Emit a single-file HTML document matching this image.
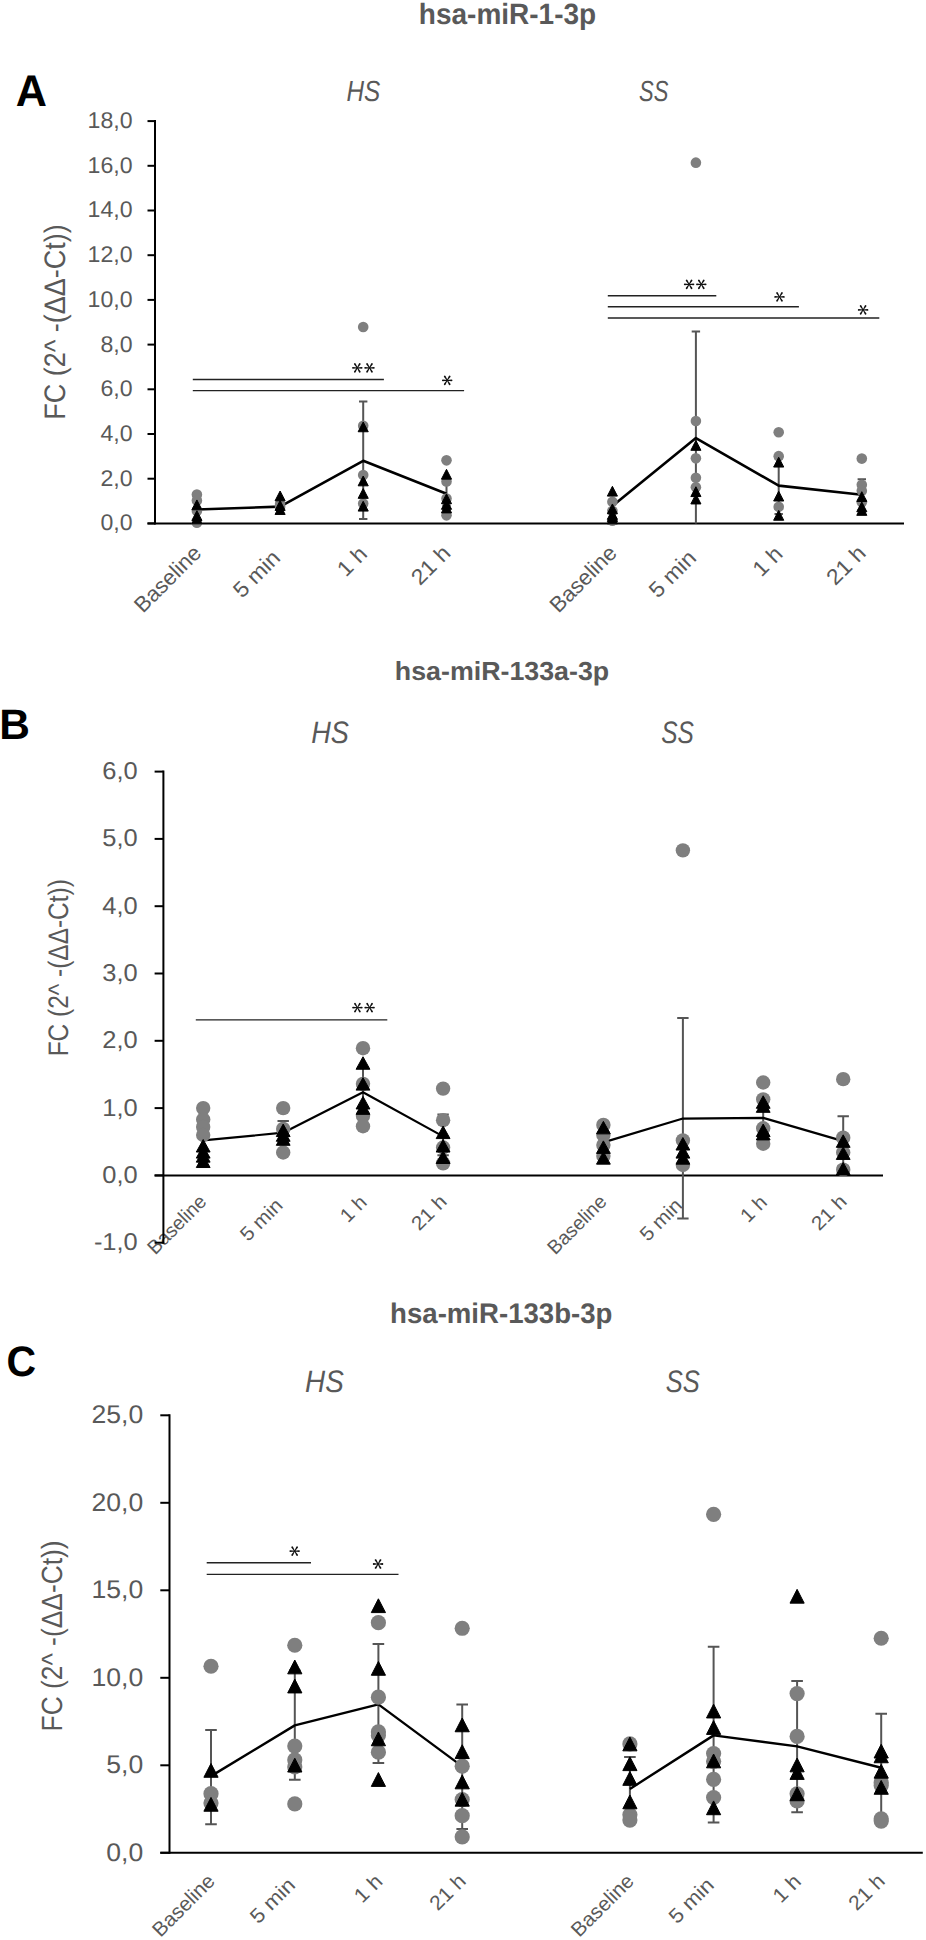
<!DOCTYPE html>
<html><head><meta charset="utf-8"><title>miRNA figure</title>
<style>
html,body{margin:0;padding:0;background:#fff;}
svg{display:block;}
text{font-family:"Liberation Sans",sans-serif;font-kerning:none;text-rendering:geometricPrecision;}
</style></head><body>
<svg width="926" height="1940" viewBox="0 0 926 1940">
<rect width="926" height="1940" fill="#fff"/>
<text transform="translate(418.84 24) scale(0.9527 1)" font-size="29.395" font-weight="bold" font-style="normal" fill="#595959">hsa-miR-1-3p</text>
<text transform="translate(394.83 679.7) scale(1.0270 1)" font-size="26.083" font-weight="bold" font-style="normal" fill="#595959">hsa-miR-133a-3p</text>
<text transform="translate(390.07 1323.3) scale(0.9716 1)" font-size="28.429" font-weight="bold" font-style="normal" fill="#595959">hsa-miR-133b-3p</text>
<text transform="translate(15.72 106) scale(0.9750 1)" font-size="44.332" font-weight="bold" font-style="normal" fill="#000">A</text>
<text transform="translate(-0.64 738.9) scale(1.0006 1)" font-size="42.443" font-weight="bold" font-style="normal" fill="#000">B</text>
<text transform="translate(6.52 1376.28) scale(0.9610 1)" font-size="42.655" font-weight="bold" font-style="normal" fill="#000">C</text>
<text transform="translate(346.45 100.9) scale(0.8413 1)" font-size="28.930" font-weight="normal" font-style="italic" fill="#595959">HS</text>
<text transform="translate(639.08 100.9) scale(0.7608 1)" font-size="28.930" font-weight="normal" font-style="italic" fill="#595959">SS</text>
<text transform="translate(311.16 742.9) scale(0.8739 1)" font-size="31.078" font-weight="normal" font-style="italic" fill="#595959">HS</text>
<text transform="translate(661.21 742.9) scale(0.7877 1)" font-size="31.078" font-weight="normal" font-style="italic" fill="#595959">SS</text>
<text transform="translate(305.04 1391.7) scale(0.8977 1)" font-size="31.078" font-weight="normal" font-style="italic" fill="#595959">HS</text>
<text transform="translate(665.68 1391.7) scale(0.8225 1)" font-size="31.078" font-weight="normal" font-style="italic" fill="#595959">SS</text>
<text transform="translate(65.3 419.81) rotate(-90) scale(0.9101 1)" font-size="29.651" font-weight="normal" font-style="normal" fill="#595959">FC (2^ -(ΔΔ-Ct))</text>
<text transform="translate(67.9 1056.31) rotate(-90) scale(0.8671 1)" font-size="28.198" font-weight="normal" font-style="normal" fill="#595959">FC (2^ -(ΔΔ-Ct))</text>
<text transform="translate(62.3 1731.46) rotate(-90) scale(0.9025 1)" font-size="29.215" font-weight="normal" font-style="normal" fill="#595959">FC (2^ -(ΔΔ-Ct))</text>
<text transform="translate(143.05 613.85) rotate(-45) scale(1.0062 1)" font-size="21.800" font-weight="normal" font-style="normal" fill="#595959">Baseline</text>
<text transform="translate(241.89 599.01) rotate(-45) scale(1.0548 1)" font-size="21.800" font-weight="normal" font-style="normal" fill="#595959">5 min</text>
<text transform="translate(346.1 577.7) rotate(-45) scale(1.0475 1)" font-size="21.800" font-weight="normal" font-style="normal" fill="#595959">1 h</text>
<text transform="translate(420 586.3) rotate(-45) scale(1.0615 1)" font-size="21.800" font-weight="normal" font-style="normal" fill="#595959">21 h</text>
<text transform="translate(558.55 613.85) rotate(-45) scale(1.0062 1)" font-size="21.800" font-weight="normal" font-style="normal" fill="#595959">Baseline</text>
<text transform="translate(657.69 599.01) rotate(-45) scale(1.0548 1)" font-size="21.800" font-weight="normal" font-style="normal" fill="#595959">5 min</text>
<text transform="translate(761.6 577.7) rotate(-45) scale(1.0475 1)" font-size="21.800" font-weight="normal" font-style="normal" fill="#595959">1 h</text>
<text transform="translate(835.3 586.3) rotate(-45) scale(1.0615 1)" font-size="21.800" font-weight="normal" font-style="normal" fill="#595959">21 h</text>
<path d="M155 120.1V524.4" stroke="#000" stroke-width="2" fill="none"/>
<path d="M147.5 523.4H904" stroke="#000" stroke-width="2" fill="none"/>
<path d="M147.5 523.4H155" stroke="#000" stroke-width="2" fill="none"/>
<text transform="translate(100.45 530.33) scale(1.0170 1)" font-size="22.740" font-weight="normal" font-style="normal" fill="#595959">0,0</text>
<path d="M147.5 478.7H155" stroke="#000" stroke-width="2" fill="none"/>
<text transform="translate(100.45 485.63) scale(1.0170 1)" font-size="22.740" font-weight="normal" font-style="normal" fill="#595959">2,0</text>
<path d="M147.5 434H155" stroke="#000" stroke-width="2" fill="none"/>
<text transform="translate(100.45 440.93) scale(1.0170 1)" font-size="22.740" font-weight="normal" font-style="normal" fill="#595959">4,0</text>
<path d="M147.5 389.3H155" stroke="#000" stroke-width="2" fill="none"/>
<text transform="translate(100.45 396.23) scale(1.0170 1)" font-size="22.740" font-weight="normal" font-style="normal" fill="#595959">6,0</text>
<path d="M147.5 344.6H155" stroke="#000" stroke-width="2" fill="none"/>
<text transform="translate(100.45 351.53) scale(1.0170 1)" font-size="22.740" font-weight="normal" font-style="normal" fill="#595959">8,0</text>
<path d="M147.5 299.9H155" stroke="#000" stroke-width="2" fill="none"/>
<text transform="translate(87.59 306.83) scale(1.0170 1)" font-size="22.740" font-weight="normal" font-style="normal" fill="#595959">10,0</text>
<path d="M147.5 255.2H155" stroke="#000" stroke-width="2" fill="none"/>
<text transform="translate(87.59 262.13) scale(1.0170 1)" font-size="22.740" font-weight="normal" font-style="normal" fill="#595959">12,0</text>
<path d="M147.5 210.5H155" stroke="#000" stroke-width="2" fill="none"/>
<text transform="translate(87.59 217.43) scale(1.0170 1)" font-size="22.740" font-weight="normal" font-style="normal" fill="#595959">14,0</text>
<path d="M147.5 165.8H155" stroke="#000" stroke-width="2" fill="none"/>
<text transform="translate(87.59 172.73) scale(1.0170 1)" font-size="22.740" font-weight="normal" font-style="normal" fill="#595959">16,0</text>
<path d="M147.5 121.1H155" stroke="#000" stroke-width="2" fill="none"/>
<text transform="translate(87.59 128.03) scale(1.0170 1)" font-size="22.740" font-weight="normal" font-style="normal" fill="#595959">18,0</text>
<path d="M192.8 379.5H383.9" stroke="#222222" stroke-width="1.4" fill="none"/>
<path d="M357.3 368.15L361.65 368.7A0.9 0.9 0 0 0 361.65 366.9L357.3 367.45ZM357.3 367.45L352.95 366.9A0.9 0.9 0 0 0 352.95 368.7L357.3 368.15ZM357 367.99L358.97 372.18A0.9 0.9 0 0 0 360.5 371.22L357.6 367.61ZM357.6 367.61L355.63 363.42A0.9 0.9 0 0 0 354.1 364.38L357 367.99ZM357 367.61L354.1 371.22A0.9 0.9 0 0 0 355.63 372.18L357.6 367.99ZM357.6 367.99L360.5 364.38A0.9 0.9 0 0 0 358.97 363.42L357 367.61Z" fill="#111"/>
<path d="M369.5 368.15L373.85 368.7A0.9 0.9 0 0 0 373.85 366.9L369.5 367.45ZM369.5 367.45L365.15 366.9A0.9 0.9 0 0 0 365.15 368.7L369.5 368.15ZM369.2 367.99L371.17 372.18A0.9 0.9 0 0 0 372.7 371.22L369.8 367.61ZM369.8 367.61L367.83 363.42A0.9 0.9 0 0 0 366.3 364.38L369.2 367.99ZM369.2 367.61L366.3 371.22A0.9 0.9 0 0 0 367.83 372.18L369.8 367.99ZM369.8 367.99L372.7 364.38A0.9 0.9 0 0 0 371.17 363.42L369.2 367.61Z" fill="#111"/>
<path d="M192.8 390.6H464.1" stroke="#222222" stroke-width="1.4" fill="none"/>
<path d="M447.2 380.65L451.55 381.2A0.9 0.9 0 0 0 451.55 379.4L447.2 379.95ZM447.2 379.95L442.85 379.4A0.9 0.9 0 0 0 442.85 381.2L447.2 380.65ZM446.9 380.49L448.87 384.68A0.9 0.9 0 0 0 450.4 383.72L447.5 380.11ZM447.5 380.11L445.53 375.92A0.9 0.9 0 0 0 444 376.88L446.9 380.49ZM446.9 380.11L444 383.72A0.9 0.9 0 0 0 445.53 384.68L447.5 380.49ZM447.5 380.49L450.4 376.88A0.9 0.9 0 0 0 448.87 375.92L446.9 380.11Z" fill="#111"/>
<path d="M607.8 295.7H716.3" stroke="#222222" stroke-width="1.4" fill="none"/>
<path d="M689.1 284.65L693.45 285.2A0.9 0.9 0 0 0 693.45 283.4L689.1 283.95ZM689.1 283.95L684.75 283.4A0.9 0.9 0 0 0 684.75 285.2L689.1 284.65ZM688.8 284.49L690.77 288.68A0.9 0.9 0 0 0 692.3 287.72L689.4 284.11ZM689.4 284.11L687.43 279.92A0.9 0.9 0 0 0 685.9 280.88L688.8 284.49ZM688.8 284.11L685.9 287.72A0.9 0.9 0 0 0 687.43 288.68L689.4 284.49ZM689.4 284.49L692.3 280.88A0.9 0.9 0 0 0 690.77 279.92L688.8 284.11Z" fill="#111"/>
<path d="M701.3 284.65L705.65 285.2A0.9 0.9 0 0 0 705.65 283.4L701.3 283.95ZM701.3 283.95L696.95 283.4A0.9 0.9 0 0 0 696.95 285.2L701.3 284.65ZM701 284.49L702.97 288.68A0.9 0.9 0 0 0 704.5 287.72L701.6 284.11ZM701.6 284.11L699.63 279.92A0.9 0.9 0 0 0 698.1 280.88L701 284.49ZM701 284.11L698.1 287.72A0.9 0.9 0 0 0 699.63 288.68L701.6 284.49ZM701.6 284.49L704.5 280.88A0.9 0.9 0 0 0 702.97 279.92L701 284.11Z" fill="#111"/>
<path d="M607.8 306.8H798.9" stroke="#222222" stroke-width="1.4" fill="none"/>
<path d="M779.5 297.25L783.85 297.8A0.9 0.9 0 0 0 783.85 296L779.5 296.55ZM779.5 296.55L775.15 296A0.9 0.9 0 0 0 775.15 297.8L779.5 297.25ZM779.2 297.09L781.17 301.28A0.9 0.9 0 0 0 782.7 300.32L779.8 296.71ZM779.8 296.71L777.83 292.52A0.9 0.9 0 0 0 776.3 293.48L779.2 297.09ZM779.2 296.71L776.3 300.32A0.9 0.9 0 0 0 777.83 301.28L779.8 297.09ZM779.8 297.09L782.7 293.48A0.9 0.9 0 0 0 781.17 292.52L779.2 296.71Z" fill="#111"/>
<path d="M607.8 318H879.3" stroke="#222222" stroke-width="1.4" fill="none"/>
<path d="M863.1 310.25L867.45 310.8A0.9 0.9 0 0 0 867.45 309L863.1 309.55ZM863.1 309.55L858.75 309A0.9 0.9 0 0 0 858.75 310.8L863.1 310.25ZM862.8 310.09L864.77 314.28A0.9 0.9 0 0 0 866.3 313.32L863.4 309.71ZM863.4 309.71L861.43 305.52A0.9 0.9 0 0 0 859.9 306.48L862.8 310.09ZM862.8 309.71L859.9 313.32A0.9 0.9 0 0 0 861.43 314.28L863.4 310.09ZM863.4 310.09L866.3 306.48A0.9 0.9 0 0 0 864.77 305.52L862.8 309.71Z" fill="#111"/>
<path d="M363.2 401.59V518.93M359 401.59H367.4M359 518.93H367.4" stroke="#555555" stroke-width="2" fill="none"/>
<path d="M446.5 480.93V505.52M442.3 480.93H450.7M442.3 505.52H450.7" stroke="#555555" stroke-width="2" fill="none"/>
<path d="M695.9 331.41V523.4M691.7 331.41H700.1" stroke="#555555" stroke-width="2" fill="none"/>
<path d="M778.7 458.58V514.01M774.5 458.58H782.9M774.5 514.01H782.9" stroke="#555555" stroke-width="2" fill="none"/>
<path d="M861.8 479.15V509.99M857.6 479.15H866M857.6 509.99H866" stroke="#555555" stroke-width="2" fill="none"/>
<polyline points="196.9,509.54 280.1,506.64 363.2,460.82 446.5,493.67" stroke="#000" stroke-width="2.6" fill="none" stroke-linejoin="round"/>
<polyline points="612.4,505.97 695.9,438.02 778.7,485.63 861.8,494.79" stroke="#000" stroke-width="2.6" fill="none" stroke-linejoin="round"/>
<circle cx="196.9" cy="494.57" r="5.3" fill="#7f7f7f"/>
<circle cx="196.9" cy="500.6" r="5.3" fill="#7f7f7f"/>
<circle cx="196.9" cy="511.11" r="5.3" fill="#7f7f7f"/>
<circle cx="196.9" cy="522.73" r="5.3" fill="#7f7f7f"/>
<circle cx="280.1" cy="503.96" r="5.3" fill="#7f7f7f"/>
<circle cx="280.1" cy="506.64" r="5.3" fill="#7f7f7f"/>
<circle cx="363.2" cy="326.94" r="5.3" fill="#7f7f7f"/>
<circle cx="363.2" cy="425.73" r="5.3" fill="#7f7f7f"/>
<circle cx="363.2" cy="475.12" r="5.3" fill="#7f7f7f"/>
<circle cx="363.2" cy="503.51" r="5.3" fill="#7f7f7f"/>
<circle cx="446.5" cy="460.37" r="5.3" fill="#7f7f7f"/>
<circle cx="446.5" cy="481.38" r="5.3" fill="#7f7f7f"/>
<circle cx="446.5" cy="498.59" r="5.3" fill="#7f7f7f"/>
<circle cx="446.5" cy="515.35" r="5.3" fill="#7f7f7f"/>
<circle cx="612.4" cy="501.72" r="5.3" fill="#7f7f7f"/>
<circle cx="612.4" cy="510.88" r="5.3" fill="#7f7f7f"/>
<circle cx="612.4" cy="520.72" r="5.3" fill="#7f7f7f"/>
<circle cx="695.9" cy="162.67" r="5.3" fill="#7f7f7f"/>
<circle cx="695.9" cy="421.04" r="5.3" fill="#7f7f7f"/>
<circle cx="695.9" cy="458.36" r="5.3" fill="#7f7f7f"/>
<circle cx="695.9" cy="477.81" r="5.3" fill="#7f7f7f"/>
<circle cx="695.9" cy="487.19" r="5.3" fill="#7f7f7f"/>
<circle cx="778.7" cy="432.21" r="5.3" fill="#7f7f7f"/>
<circle cx="778.7" cy="456.13" r="5.3" fill="#7f7f7f"/>
<circle cx="778.7" cy="506.86" r="5.3" fill="#7f7f7f"/>
<circle cx="861.8" cy="458.58" r="5.3" fill="#7f7f7f"/>
<circle cx="861.8" cy="484.73" r="5.3" fill="#7f7f7f"/>
<circle cx="861.8" cy="490.77" r="5.3" fill="#7f7f7f"/>
<circle cx="861.8" cy="502.17" r="5.3" fill="#7f7f7f"/>
<path d="M196.9 499.95L201.95 509.75L191.85 509.75Z" fill="#000" stroke="#000" stroke-width="1" stroke-linejoin="round"/>
<path d="M196.9 510.68L201.95 520.48L191.85 520.48Z" fill="#000" stroke="#000" stroke-width="1" stroke-linejoin="round"/>
<path d="M196.9 514.03L201.95 523.83L191.85 523.83Z" fill="#000" stroke="#000" stroke-width="1" stroke-linejoin="round"/>
<path d="M280.1 491.01L285.15 500.81L275.05 500.81Z" fill="#000" stroke="#000" stroke-width="1" stroke-linejoin="round"/>
<path d="M280.1 500.62L285.15 510.42L275.05 510.42Z" fill="#000" stroke="#000" stroke-width="1" stroke-linejoin="round"/>
<path d="M280.1 504.64L285.15 514.44L275.05 514.44Z" fill="#000" stroke="#000" stroke-width="1" stroke-linejoin="round"/>
<path d="M363.2 421.95L368.25 431.75L358.15 431.75Z" fill="#000" stroke="#000" stroke-width="1" stroke-linejoin="round"/>
<path d="M363.2 476.03L368.25 485.83L358.15 485.83Z" fill="#000" stroke="#000" stroke-width="1" stroke-linejoin="round"/>
<path d="M363.2 488.55L368.25 498.35L358.15 498.35Z" fill="#000" stroke="#000" stroke-width="1" stroke-linejoin="round"/>
<path d="M363.2 501.29L368.25 511.09L358.15 511.09Z" fill="#000" stroke="#000" stroke-width="1" stroke-linejoin="round"/>
<path d="M446.5 469.33L451.55 479.13L441.45 479.13Z" fill="#000" stroke="#000" stroke-width="1" stroke-linejoin="round"/>
<path d="M446.5 493.92L451.55 503.71L441.45 503.71Z" fill="#000" stroke="#000" stroke-width="1" stroke-linejoin="round"/>
<path d="M446.5 499.5L451.55 509.3L441.45 509.3Z" fill="#000" stroke="#000" stroke-width="1" stroke-linejoin="round"/>
<path d="M446.5 503.08L451.55 512.88L441.45 512.88Z" fill="#000" stroke="#000" stroke-width="1" stroke-linejoin="round"/>
<path d="M612.4 486.32L617.45 496.12L607.35 496.12Z" fill="#000" stroke="#000" stroke-width="1" stroke-linejoin="round"/>
<path d="M612.4 503.97L617.45 513.77L607.35 513.77Z" fill="#000" stroke="#000" stroke-width="1" stroke-linejoin="round"/>
<path d="M612.4 509.56L617.45 519.36L607.35 519.36Z" fill="#000" stroke="#000" stroke-width="1" stroke-linejoin="round"/>
<path d="M612.4 511.79L617.45 521.59L607.35 521.59Z" fill="#000" stroke="#000" stroke-width="1" stroke-linejoin="round"/>
<path d="M612.4 514.03L617.45 523.83L607.35 523.83Z" fill="#000" stroke="#000" stroke-width="1" stroke-linejoin="round"/>
<path d="M695.9 440.5L700.95 450.3L690.85 450.3Z" fill="#000" stroke="#000" stroke-width="1" stroke-linejoin="round"/>
<path d="M695.9 486.76L700.95 496.56L690.85 496.56Z" fill="#000" stroke="#000" stroke-width="1" stroke-linejoin="round"/>
<path d="M695.9 494.14L700.95 503.94L690.85 503.94Z" fill="#000" stroke="#000" stroke-width="1" stroke-linejoin="round"/>
<path d="M778.7 457.26L783.75 467.06L773.65 467.06Z" fill="#000" stroke="#000" stroke-width="1" stroke-linejoin="round"/>
<path d="M778.7 491.23L783.75 501.03L773.65 501.03Z" fill="#000" stroke="#000" stroke-width="1" stroke-linejoin="round"/>
<path d="M778.7 510.45L783.75 520.25L773.65 520.25Z" fill="#000" stroke="#000" stroke-width="1" stroke-linejoin="round"/>
<path d="M861.8 491.68L866.85 501.48L856.75 501.48Z" fill="#000" stroke="#000" stroke-width="1" stroke-linejoin="round"/>
<path d="M861.8 501.96L866.85 511.76L856.75 511.76Z" fill="#000" stroke="#000" stroke-width="1" stroke-linejoin="round"/>
<path d="M861.8 505.54L866.85 515.34L856.75 515.34Z" fill="#000" stroke="#000" stroke-width="1" stroke-linejoin="round"/>
<text transform="translate(155.16 1255.44) rotate(-45) scale(0.9874 1)" font-size="19.600" font-weight="normal" font-style="normal" fill="#595959">Baseline</text>
<text transform="translate(247.93 1242.37) rotate(-45) scale(1.0585 1)" font-size="19.600" font-weight="normal" font-style="normal" fill="#595959">5 min</text>
<text transform="translate(348.05 1223.45) rotate(-45) scale(1.0353 1)" font-size="19.600" font-weight="normal" font-style="normal" fill="#595959">1 h</text>
<text transform="translate(419.18 1231.62) rotate(-45) scale(1.0685 1)" font-size="19.600" font-weight="normal" font-style="normal" fill="#595959">21 h</text>
<text transform="translate(555.36 1255.44) rotate(-45) scale(0.9874 1)" font-size="19.600" font-weight="normal" font-style="normal" fill="#595959">Baseline</text>
<text transform="translate(647.63 1242.37) rotate(-45) scale(1.0585 1)" font-size="19.600" font-weight="normal" font-style="normal" fill="#595959">5 min</text>
<text transform="translate(748.25 1223.45) rotate(-45) scale(1.0353 1)" font-size="19.600" font-weight="normal" font-style="normal" fill="#595959">1 h</text>
<text transform="translate(819.28 1231.62) rotate(-45) scale(1.0685 1)" font-size="19.600" font-weight="normal" font-style="normal" fill="#595959">21 h</text>
<path d="M163.4 770.6V1243.7" stroke="#000" stroke-width="2" fill="none"/>
<path d="M154.6 1175.4H883" stroke="#000" stroke-width="2" fill="none"/>
<path d="M154.6 1242.7H163.4" stroke="#000" stroke-width="2" fill="none"/>
<text transform="translate(93.88 1250.21) scale(1.0430 1)" font-size="24.435" font-weight="normal" font-style="normal" fill="#595959">-1,0</text>
<path d="M154.6 1175.4H163.4" stroke="#000" stroke-width="2" fill="none"/>
<text transform="translate(102.37 1182.91) scale(1.0430 1)" font-size="24.435" font-weight="normal" font-style="normal" fill="#595959">0,0</text>
<path d="M154.6 1108.1H163.4" stroke="#000" stroke-width="2" fill="none"/>
<text transform="translate(102.37 1115.61) scale(1.0430 1)" font-size="24.435" font-weight="normal" font-style="normal" fill="#595959">1,0</text>
<path d="M154.6 1040.8H163.4" stroke="#000" stroke-width="2" fill="none"/>
<text transform="translate(102.37 1048.31) scale(1.0430 1)" font-size="24.435" font-weight="normal" font-style="normal" fill="#595959">2,0</text>
<path d="M154.6 973.5H163.4" stroke="#000" stroke-width="2" fill="none"/>
<text transform="translate(102.37 981.01) scale(1.0430 1)" font-size="24.435" font-weight="normal" font-style="normal" fill="#595959">3,0</text>
<path d="M154.6 906.2H163.4" stroke="#000" stroke-width="2" fill="none"/>
<text transform="translate(102.37 913.71) scale(1.0430 1)" font-size="24.435" font-weight="normal" font-style="normal" fill="#595959">4,0</text>
<path d="M154.6 838.9H163.4" stroke="#000" stroke-width="2" fill="none"/>
<text transform="translate(102.37 846.41) scale(1.0430 1)" font-size="24.435" font-weight="normal" font-style="normal" fill="#595959">5,0</text>
<path d="M154.6 771.6H163.4" stroke="#000" stroke-width="2" fill="none"/>
<text transform="translate(102.37 779.11) scale(1.0430 1)" font-size="24.435" font-weight="normal" font-style="normal" fill="#595959">6,0</text>
<path d="M195.8 1019.9H387.3" stroke="#222222" stroke-width="1.4" fill="none"/>
<path d="M357.4 1007.95L361.75 1008.5A0.9 0.9 0 0 0 361.75 1006.7L357.4 1007.25ZM357.4 1007.25L353.05 1006.7A0.9 0.9 0 0 0 353.05 1008.5L357.4 1007.95ZM357.1 1007.79L359.07 1011.98A0.9 0.9 0 0 0 360.6 1011.02L357.7 1007.41ZM357.7 1007.41L355.73 1003.22A0.9 0.9 0 0 0 354.2 1004.18L357.1 1007.79ZM357.1 1007.41L354.2 1011.02A0.9 0.9 0 0 0 355.73 1011.98L357.7 1007.79ZM357.7 1007.79L360.6 1004.18A0.9 0.9 0 0 0 359.07 1003.22L357.1 1007.41Z" fill="#111"/>
<path d="M369.6 1007.95L373.95 1008.5A0.9 0.9 0 0 0 373.95 1006.7L369.6 1007.25ZM369.6 1007.25L365.25 1006.7A0.9 0.9 0 0 0 365.25 1008.5L369.6 1007.95ZM369.3 1007.79L371.27 1011.98A0.9 0.9 0 0 0 372.8 1011.02L369.9 1007.41ZM369.9 1007.41L367.93 1003.22A0.9 0.9 0 0 0 366.4 1004.18L369.3 1007.79ZM369.3 1007.41L366.4 1011.02A0.9 0.9 0 0 0 367.93 1011.98L369.9 1007.79ZM369.9 1007.79L372.8 1004.18A0.9 0.9 0 0 0 371.27 1003.22L369.3 1007.41Z" fill="#111"/>
<path d="M283.2 1120.89V1143.77M277.5 1120.89H288.9M277.5 1143.77H288.9" stroke="#555555" stroke-width="2" fill="none"/>
<path d="M363 1067.72V1116.85M357.3 1067.72H368.7M357.3 1116.85H368.7" stroke="#555555" stroke-width="2" fill="none"/>
<path d="M443.1 1114.49V1155.21M437.4 1114.49H448.8M437.4 1155.21H448.8" stroke="#555555" stroke-width="2" fill="none"/>
<path d="M682.9 1017.92V1218.47M677.2 1017.92H688.6M677.2 1218.47H688.6" stroke="#555555" stroke-width="2" fill="none"/>
<path d="M763.2 1101.37V1135.02M757.5 1101.37H768.9M757.5 1135.02H768.9" stroke="#555555" stroke-width="2" fill="none"/>
<path d="M843.2 1116.18V1165.98M837.5 1116.18H848.9M837.5 1165.98H848.9" stroke="#555555" stroke-width="2" fill="none"/>
<polyline points="203.2,1140.4 283.2,1132.66 363,1092.28 443.1,1136.37" stroke="#000" stroke-width="2.2" fill="none" stroke-linejoin="round"/>
<polyline points="603.4,1142.42 682.9,1118.53 763.2,1117.86 843.2,1141.08" stroke="#000" stroke-width="2.2" fill="none" stroke-linejoin="round"/>
<circle cx="203.2" cy="1108.1" r="7.2" fill="#7f7f7f"/>
<circle cx="203.2" cy="1119.54" r="7.2" fill="#7f7f7f"/>
<circle cx="203.2" cy="1126.94" r="7.2" fill="#7f7f7f"/>
<circle cx="203.2" cy="1135.02" r="7.2" fill="#7f7f7f"/>
<circle cx="283.2" cy="1108.1" r="7.2" fill="#7f7f7f"/>
<circle cx="283.2" cy="1128.96" r="7.2" fill="#7f7f7f"/>
<circle cx="283.2" cy="1152.52" r="7.2" fill="#7f7f7f"/>
<circle cx="363" cy="1048.2" r="7.2" fill="#7f7f7f"/>
<circle cx="363" cy="1083.87" r="7.2" fill="#7f7f7f"/>
<circle cx="363" cy="1115.84" r="7.2" fill="#7f7f7f"/>
<circle cx="363" cy="1126.27" r="7.2" fill="#7f7f7f"/>
<circle cx="443.1" cy="1088.58" r="7.2" fill="#7f7f7f"/>
<circle cx="443.1" cy="1120.21" r="7.2" fill="#7f7f7f"/>
<circle cx="443.1" cy="1147.47" r="7.2" fill="#7f7f7f"/>
<circle cx="443.1" cy="1163.29" r="7.2" fill="#7f7f7f"/>
<circle cx="603.4" cy="1124.93" r="7.2" fill="#7f7f7f"/>
<circle cx="603.4" cy="1135.02" r="7.2" fill="#7f7f7f"/>
<circle cx="603.4" cy="1145.12" r="7.2" fill="#7f7f7f"/>
<circle cx="603.4" cy="1155.88" r="7.2" fill="#7f7f7f"/>
<circle cx="682.9" cy="850.34" r="7.2" fill="#7f7f7f"/>
<circle cx="682.9" cy="1140.4" r="7.2" fill="#7f7f7f"/>
<circle cx="682.9" cy="1164.97" r="7.2" fill="#7f7f7f"/>
<circle cx="763.2" cy="1082.53" r="7.2" fill="#7f7f7f"/>
<circle cx="763.2" cy="1099.35" r="7.2" fill="#7f7f7f"/>
<circle cx="763.2" cy="1128.29" r="7.2" fill="#7f7f7f"/>
<circle cx="763.2" cy="1143.77" r="7.2" fill="#7f7f7f"/>
<circle cx="843.2" cy="1079.16" r="7.2" fill="#7f7f7f"/>
<circle cx="843.2" cy="1137.71" r="7.2" fill="#7f7f7f"/>
<circle cx="843.2" cy="1152.52" r="7.2" fill="#7f7f7f"/>
<circle cx="843.2" cy="1169.68" r="7.2" fill="#7f7f7f"/>
<path d="M203.2 1139.54L210.1 1152.04L196.3 1152.04Z" fill="#000" stroke="#000" stroke-width="1" stroke-linejoin="round"/>
<path d="M203.2 1145.6L210.1 1158.1L196.3 1158.1Z" fill="#000" stroke="#000" stroke-width="1" stroke-linejoin="round"/>
<path d="M203.2 1149.63L210.1 1162.13L196.3 1162.13Z" fill="#000" stroke="#000" stroke-width="1" stroke-linejoin="round"/>
<path d="M203.2 1155.02L210.1 1167.52L196.3 1167.52Z" fill="#000" stroke="#000" stroke-width="1" stroke-linejoin="round"/>
<path d="M283.2 1124.06L290.1 1136.56L276.3 1136.56Z" fill="#000" stroke="#000" stroke-width="1" stroke-linejoin="round"/>
<path d="M283.2 1128.77L290.1 1141.27L276.3 1141.27Z" fill="#000" stroke="#000" stroke-width="1" stroke-linejoin="round"/>
<path d="M283.2 1132.81L290.1 1145.31L276.3 1145.31Z" fill="#000" stroke="#000" stroke-width="1" stroke-linejoin="round"/>
<path d="M363 1056.76L369.9 1069.26L356.1 1069.26Z" fill="#000" stroke="#000" stroke-width="1" stroke-linejoin="round"/>
<path d="M363 1077.62L369.9 1090.12L356.1 1090.12Z" fill="#000" stroke="#000" stroke-width="1" stroke-linejoin="round"/>
<path d="M363 1096.47L369.9 1108.97L356.1 1108.97Z" fill="#000" stroke="#000" stroke-width="1" stroke-linejoin="round"/>
<path d="M363 1101.85L369.9 1114.35L356.1 1114.35Z" fill="#000" stroke="#000" stroke-width="1" stroke-linejoin="round"/>
<path d="M443.1 1126.08L450 1138.58L436.2 1138.58Z" fill="#000" stroke="#000" stroke-width="1" stroke-linejoin="round"/>
<path d="M443.1 1139.54L450 1152.04L436.2 1152.04Z" fill="#000" stroke="#000" stroke-width="1" stroke-linejoin="round"/>
<path d="M443.1 1150.98L450 1163.48L436.2 1163.48Z" fill="#000" stroke="#000" stroke-width="1" stroke-linejoin="round"/>
<path d="M603.4 1121.37L610.3 1133.87L596.5 1133.87Z" fill="#000" stroke="#000" stroke-width="1" stroke-linejoin="round"/>
<path d="M603.4 1140.88L610.3 1153.38L596.5 1153.38Z" fill="#000" stroke="#000" stroke-width="1" stroke-linejoin="round"/>
<path d="M603.4 1151.65L610.3 1164.15L596.5 1164.15Z" fill="#000" stroke="#000" stroke-width="1" stroke-linejoin="round"/>
<path d="M682.9 1137.52L689.8 1150.02L676 1150.02Z" fill="#000" stroke="#000" stroke-width="1" stroke-linejoin="round"/>
<path d="M682.9 1145.6L689.8 1158.1L676 1158.1Z" fill="#000" stroke="#000" stroke-width="1" stroke-linejoin="round"/>
<path d="M682.9 1151.65L689.8 1164.15L676 1164.15Z" fill="#000" stroke="#000" stroke-width="1" stroke-linejoin="round"/>
<path d="M763.2 1095.79L770.1 1108.29L756.3 1108.29Z" fill="#000" stroke="#000" stroke-width="1" stroke-linejoin="round"/>
<path d="M763.2 1099.83L770.1 1112.33L756.3 1112.33Z" fill="#000" stroke="#000" stroke-width="1" stroke-linejoin="round"/>
<path d="M763.2 1124.06L770.1 1136.56L756.3 1136.56Z" fill="#000" stroke="#000" stroke-width="1" stroke-linejoin="round"/>
<path d="M763.2 1127.42L770.1 1139.92L756.3 1139.92Z" fill="#000" stroke="#000" stroke-width="1" stroke-linejoin="round"/>
<path d="M843.2 1134.83L850.1 1147.33L836.3 1147.33Z" fill="#000" stroke="#000" stroke-width="1" stroke-linejoin="round"/>
<path d="M843.2 1146.94L850.1 1159.44L836.3 1159.44Z" fill="#000" stroke="#000" stroke-width="1" stroke-linejoin="round"/>
<path d="M843.2 1162.42L850.1 1174.92L836.3 1174.92Z" fill="#000" stroke="#000" stroke-width="1" stroke-linejoin="round"/>
<text transform="translate(160.45 1938.05) rotate(-45) scale(1.0075 1)" font-size="20.400" font-weight="normal" font-style="normal" fill="#595959">Baseline</text>
<text transform="translate(258.15 1924.65) rotate(-45) scale(1.0859 1)" font-size="20.400" font-weight="normal" font-style="normal" fill="#595959">5 min</text>
<text transform="translate(362.31 1903.99) rotate(-45) scale(1.0666 1)" font-size="20.400" font-weight="normal" font-style="normal" fill="#595959">1 h</text>
<text transform="translate(437.81 1911.59) rotate(-45) scale(1.0416 1)" font-size="20.400" font-weight="normal" font-style="normal" fill="#595959">21 h</text>
<text transform="translate(579.35 1938.05) rotate(-45) scale(1.0075 1)" font-size="20.400" font-weight="normal" font-style="normal" fill="#595959">Baseline</text>
<text transform="translate(676.95 1924.65) rotate(-45) scale(1.0859 1)" font-size="20.400" font-weight="normal" font-style="normal" fill="#595959">5 min</text>
<text transform="translate(781.01 1903.99) rotate(-45) scale(1.0666 1)" font-size="20.400" font-weight="normal" font-style="normal" fill="#595959">1 h</text>
<text transform="translate(856.81 1911.59) rotate(-45) scale(1.0416 1)" font-size="20.400" font-weight="normal" font-style="normal" fill="#595959">21 h</text>
<path d="M169.5 1414.3V1853.8" stroke="#000" stroke-width="2" fill="none"/>
<path d="M160.3 1852.8H922.8" stroke="#000" stroke-width="2" fill="none"/>
<path d="M160.3 1852.8H169.5" stroke="#000" stroke-width="2" fill="none"/>
<text transform="translate(106.28 1860.7) scale(1.0400 1)" font-size="25.565" font-weight="normal" font-style="normal" fill="#595959">0,0</text>
<path d="M160.3 1765.3H169.5" stroke="#000" stroke-width="2" fill="none"/>
<text transform="translate(106.28 1773.2) scale(1.0400 1)" font-size="25.565" font-weight="normal" font-style="normal" fill="#595959">5,0</text>
<path d="M160.3 1677.8H169.5" stroke="#000" stroke-width="2" fill="none"/>
<text transform="translate(91.49 1685.7) scale(1.0400 1)" font-size="25.565" font-weight="normal" font-style="normal" fill="#595959">10,0</text>
<path d="M160.3 1590.3H169.5" stroke="#000" stroke-width="2" fill="none"/>
<text transform="translate(91.49 1598.2) scale(1.0400 1)" font-size="25.565" font-weight="normal" font-style="normal" fill="#595959">15,0</text>
<path d="M160.3 1502.8H169.5" stroke="#000" stroke-width="2" fill="none"/>
<text transform="translate(91.49 1510.7) scale(1.0400 1)" font-size="25.565" font-weight="normal" font-style="normal" fill="#595959">20,0</text>
<path d="M160.3 1415.3H169.5" stroke="#000" stroke-width="2" fill="none"/>
<text transform="translate(91.49 1423.2) scale(1.0400 1)" font-size="25.565" font-weight="normal" font-style="normal" fill="#595959">25,0</text>
<path d="M206.7 1562.8H311" stroke="#222222" stroke-width="1.4" fill="none"/>
<path d="M294.65 1551.45L299 1552A0.9 0.9 0 0 0 299 1550.2L294.65 1550.75ZM294.65 1550.75L290.3 1550.2A0.9 0.9 0 0 0 290.3 1552L294.65 1551.45ZM294.35 1551.29L296.32 1555.48A0.9 0.9 0 0 0 297.85 1554.52L294.95 1550.91ZM294.95 1550.91L292.98 1546.72A0.9 0.9 0 0 0 291.45 1547.68L294.35 1551.29ZM294.35 1550.91L291.45 1554.52A0.9 0.9 0 0 0 292.98 1555.48L294.95 1551.29ZM294.95 1551.29L297.85 1547.68A0.9 0.9 0 0 0 296.32 1546.72L294.35 1550.91Z" fill="#111"/>
<path d="M206.7 1574.4H398.5" stroke="#222222" stroke-width="1.4" fill="none"/>
<path d="M378.05 1564.35L382.4 1564.9A0.9 0.9 0 0 0 382.4 1563.1L378.05 1563.65ZM378.05 1563.65L373.7 1563.1A0.9 0.9 0 0 0 373.7 1564.9L378.05 1564.35ZM377.75 1564.19L379.72 1568.38A0.9 0.9 0 0 0 381.25 1567.42L378.35 1563.81ZM378.35 1563.81L376.38 1559.62A0.9 0.9 0 0 0 374.85 1560.58L377.75 1564.19ZM377.75 1563.81L374.85 1567.42A0.9 0.9 0 0 0 376.38 1568.38L378.35 1564.19ZM378.35 1564.19L381.25 1560.58A0.9 0.9 0 0 0 379.72 1559.62L377.75 1563.81Z" fill="#111"/>
<path d="M211 1729.95V1824.27M205.2 1729.95H216.8M205.2 1824.27H216.8" stroke="#555555" stroke-width="2" fill="none"/>
<path d="M294.8 1670.62V1779.83M289 1670.62H300.6M289 1779.83H300.6" stroke="#555555" stroke-width="2" fill="none"/>
<path d="M378.4 1644.02V1763.02M372.6 1644.02H384.2M372.6 1763.02H384.2" stroke="#555555" stroke-width="2" fill="none"/>
<path d="M462.2 1704.57V1829M456.4 1704.57H468M456.4 1829H468" stroke="#555555" stroke-width="2" fill="none"/>
<path d="M629.9 1756.9V1820.95M624.1 1756.9H635.7M624.1 1820.95H635.7" stroke="#555555" stroke-width="2" fill="none"/>
<path d="M713.6 1646.83V1822.52M707.8 1646.83H719.4M707.8 1822.52H719.4" stroke="#555555" stroke-width="2" fill="none"/>
<path d="M797.1 1681.12V1812.2M791.3 1681.12H802.9M791.3 1812.2H802.9" stroke="#555555" stroke-width="2" fill="none"/>
<path d="M881.2 1713.67V1818.67M875.4 1713.67H887M875.4 1818.67H887" stroke="#555555" stroke-width="2" fill="none"/>
<polyline points="211,1776.15 294.8,1725.4 378.4,1704.4 462.2,1766.35" stroke="#000" stroke-width="2.4" fill="none" stroke-linejoin="round"/>
<polyline points="629.9,1788.92 713.6,1735.38 797.1,1746.4 881.2,1767.75" stroke="#000" stroke-width="2.4" fill="none" stroke-linejoin="round"/>
<circle cx="211" cy="1666.25" r="7.6" fill="#7f7f7f"/>
<circle cx="211" cy="1793.65" r="7.6" fill="#7f7f7f"/>
<circle cx="211" cy="1803.1" r="7.6" fill="#7f7f7f"/>
<circle cx="294.8" cy="1645.25" r="7.6" fill="#7f7f7f"/>
<circle cx="294.8" cy="1746.05" r="7.6" fill="#7f7f7f"/>
<circle cx="294.8" cy="1759.88" r="7.6" fill="#7f7f7f"/>
<circle cx="294.8" cy="1766.88" r="7.6" fill="#7f7f7f"/>
<circle cx="294.8" cy="1803.97" r="7.6" fill="#7f7f7f"/>
<circle cx="378.4" cy="1622.67" r="7.6" fill="#7f7f7f"/>
<circle cx="378.4" cy="1697.22" r="7.6" fill="#7f7f7f"/>
<circle cx="378.4" cy="1731.88" r="7.6" fill="#7f7f7f"/>
<circle cx="378.4" cy="1735.38" r="7.6" fill="#7f7f7f"/>
<circle cx="378.4" cy="1752.17" r="7.6" fill="#7f7f7f"/>
<circle cx="462.2" cy="1628.27" r="7.6" fill="#7f7f7f"/>
<circle cx="462.2" cy="1766.17" r="7.6" fill="#7f7f7f"/>
<circle cx="462.2" cy="1799.6" r="7.6" fill="#7f7f7f"/>
<circle cx="462.2" cy="1815.7" r="7.6" fill="#7f7f7f"/>
<circle cx="462.2" cy="1836.88" r="7.6" fill="#7f7f7f"/>
<circle cx="629.9" cy="1743.95" r="7.6" fill="#7f7f7f"/>
<circle cx="629.9" cy="1814.83" r="7.6" fill="#7f7f7f"/>
<circle cx="629.9" cy="1820.08" r="7.6" fill="#7f7f7f"/>
<circle cx="713.6" cy="1514.35" r="7.6" fill="#7f7f7f"/>
<circle cx="713.6" cy="1753.58" r="7.6" fill="#7f7f7f"/>
<circle cx="713.6" cy="1761.27" r="7.6" fill="#7f7f7f"/>
<circle cx="713.6" cy="1779.47" r="7.6" fill="#7f7f7f"/>
<circle cx="713.6" cy="1797.5" r="7.6" fill="#7f7f7f"/>
<circle cx="797.1" cy="1693.55" r="7.6" fill="#7f7f7f"/>
<circle cx="797.1" cy="1736.42" r="7.6" fill="#7f7f7f"/>
<circle cx="797.1" cy="1793.83" r="7.6" fill="#7f7f7f"/>
<circle cx="797.1" cy="1801" r="7.6" fill="#7f7f7f"/>
<circle cx="881.2" cy="1638.25" r="7.6" fill="#7f7f7f"/>
<circle cx="881.2" cy="1782.45" r="7.6" fill="#7f7f7f"/>
<circle cx="881.2" cy="1785.6" r="7.6" fill="#7f7f7f"/>
<circle cx="881.2" cy="1818.85" r="7.6" fill="#7f7f7f"/>
<circle cx="881.2" cy="1821.12" r="7.6" fill="#7f7f7f"/>
<path d="M211 1763.47L218.1 1777.28L203.9 1777.28Z" fill="#000" stroke="#000" stroke-width="1" stroke-linejoin="round"/>
<path d="M211 1797.42L218.1 1811.23L203.9 1811.23Z" fill="#000" stroke="#000" stroke-width="1" stroke-linejoin="round"/>
<path d="M294.8 1660.05L301.9 1673.85L287.7 1673.85Z" fill="#000" stroke="#000" stroke-width="1" stroke-linejoin="round"/>
<path d="M294.8 1679.12L301.9 1692.93L287.7 1692.93Z" fill="#000" stroke="#000" stroke-width="1" stroke-linejoin="round"/>
<path d="M294.8 1758.22L301.9 1772.03L287.7 1772.03Z" fill="#000" stroke="#000" stroke-width="1" stroke-linejoin="round"/>
<path d="M378.4 1598.8L385.5 1612.6L371.3 1612.6Z" fill="#000" stroke="#000" stroke-width="1" stroke-linejoin="round"/>
<path d="M378.4 1661.45L385.5 1675.25L371.3 1675.25Z" fill="#000" stroke="#000" stroke-width="1" stroke-linejoin="round"/>
<path d="M378.4 1731.97L385.5 1745.78L371.3 1745.78Z" fill="#000" stroke="#000" stroke-width="1" stroke-linejoin="round"/>
<path d="M378.4 1772.57L385.5 1786.38L371.3 1786.38Z" fill="#000" stroke="#000" stroke-width="1" stroke-linejoin="round"/>
<path d="M462.2 1717.97L469.3 1731.78L455.1 1731.78Z" fill="#000" stroke="#000" stroke-width="1" stroke-linejoin="round"/>
<path d="M462.2 1744.75L469.3 1758.55L455.1 1758.55Z" fill="#000" stroke="#000" stroke-width="1" stroke-linejoin="round"/>
<path d="M462.2 1775.02L469.3 1788.83L455.1 1788.83Z" fill="#000" stroke="#000" stroke-width="1" stroke-linejoin="round"/>
<path d="M462.2 1792.35L469.3 1806.15L455.1 1806.15Z" fill="#000" stroke="#000" stroke-width="1" stroke-linejoin="round"/>
<path d="M629.9 1737.05L637 1750.85L622.8 1750.85Z" fill="#000" stroke="#000" stroke-width="1" stroke-linejoin="round"/>
<path d="M629.9 1756.82L637 1770.62L622.8 1770.62Z" fill="#000" stroke="#000" stroke-width="1" stroke-linejoin="round"/>
<path d="M629.9 1771.52L637 1785.33L622.8 1785.33Z" fill="#000" stroke="#000" stroke-width="1" stroke-linejoin="round"/>
<path d="M629.9 1794.97L637 1808.78L622.8 1808.78Z" fill="#000" stroke="#000" stroke-width="1" stroke-linejoin="round"/>
<path d="M713.6 1704.15L720.7 1717.95L706.5 1717.95Z" fill="#000" stroke="#000" stroke-width="1" stroke-linejoin="round"/>
<path d="M713.6 1720.6L720.7 1734.4L706.5 1734.4Z" fill="#000" stroke="#000" stroke-width="1" stroke-linejoin="round"/>
<path d="M713.6 1754.02L720.7 1767.83L706.5 1767.83Z" fill="#000" stroke="#000" stroke-width="1" stroke-linejoin="round"/>
<path d="M713.6 1800.92L720.7 1814.73L706.5 1814.73Z" fill="#000" stroke="#000" stroke-width="1" stroke-linejoin="round"/>
<path d="M797.1 1589.35L804.2 1603.15L790 1603.15Z" fill="#000" stroke="#000" stroke-width="1" stroke-linejoin="round"/>
<path d="M797.1 1758.05L804.2 1771.85L790 1771.85Z" fill="#000" stroke="#000" stroke-width="1" stroke-linejoin="round"/>
<path d="M797.1 1765.57L804.2 1779.38L790 1779.38Z" fill="#000" stroke="#000" stroke-width="1" stroke-linejoin="round"/>
<path d="M797.1 1786.92L804.2 1800.73L790 1800.73Z" fill="#000" stroke="#000" stroke-width="1" stroke-linejoin="round"/>
<path d="M881.2 1744.22L888.3 1758.03L874.1 1758.03Z" fill="#000" stroke="#000" stroke-width="1" stroke-linejoin="round"/>
<path d="M881.2 1748.95L888.3 1762.75L874.1 1762.75Z" fill="#000" stroke="#000" stroke-width="1" stroke-linejoin="round"/>
<path d="M881.2 1764.35L888.3 1778.15L874.1 1778.15Z" fill="#000" stroke="#000" stroke-width="1" stroke-linejoin="round"/>
<path d="M881.2 1780.45L888.3 1794.25L874.1 1794.25Z" fill="#000" stroke="#000" stroke-width="1" stroke-linejoin="round"/>
</svg>
</body></html>
